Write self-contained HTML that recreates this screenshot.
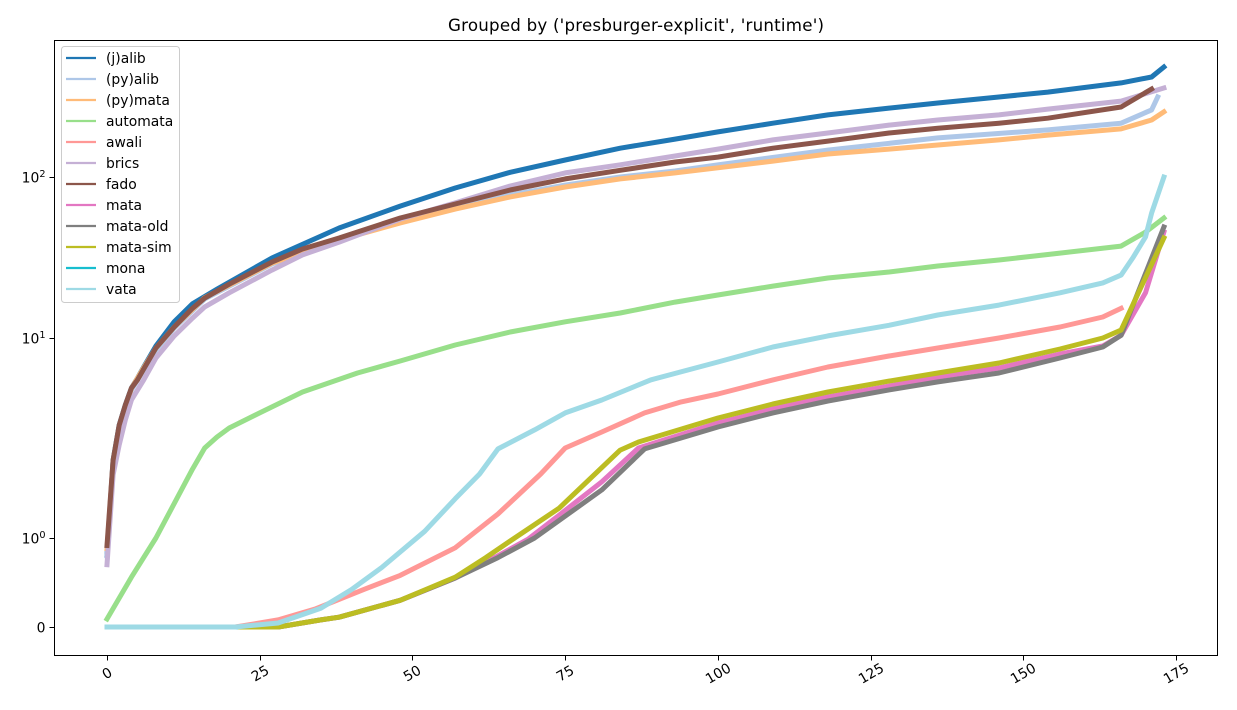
<!DOCTYPE html>
<html lang="en">
<head>
<meta charset="utf-8">
<title>Grouped by ('presburger-explicit', 'runtime')</title>
<style>
html,body{margin:0;padding:0;background:#fff;}
svg{display:block;font-family:"DejaVu Sans","Liberation Sans",sans-serif;}
</style>
</head>
<body>
<svg id="chart" width="1237" height="710" viewBox="0 0 1237 710" xmlns="http://www.w3.org/2000/svg">
  <rect x="0" y="0" width="1237" height="710" fill="#fff"/>
  <text x="448" y="31" font-size="16.67px" textLength="376" lengthAdjust="spacing" fill="#000">Grouped by ('presburger-explicit', 'runtime')</text>
  <g id="marks"></g>
  <rect x="54.5" y="40.5" width="1163" height="615" fill="none" stroke="#000" stroke-width="1"/>
  <g id="x-axis"></g>
  <g id="y-axis"></g>
  <g id="legend"></g>
</svg>
<script>
const xTicks = [0, 25, 50, 75, 100, 125, 150, 175];
const yTicks = [0, 1, 10, 100];
const yTickBases = ['0', '10', '10', '10'];
const yTickExponents = ['', '0', '1', '2'];

const seriesNames = ['(j)alib', '(py)alib', '(py)mata', 'automata', 'awali', 'brics', 'fado', 'mata', 'mata-old', 'mata-sim', 'mona', 'vata'];
const seriesColors = ['#1f77b4', '#aec7e8', '#ffbb78', '#98df8a', '#ff9896', '#c5b0d5', '#8c564b', '#e377c2', '#7f7f7f', '#bcbd22', '#17becf', '#9edae5'];

const jalibRanks = [0, 1, 2, 3, 4, 5, 6, 8, 11, 14, 18, 27, 38, 48, 57, 66, 75, 84, 93, 100, 109, 118, 128, 136, 146, 154, 166, 171, 173];
const jalibTimes = [0.81, 2.45, 3.67, 4.62, 5.62, 6.31, 7.16, 9.12, 12.6, 16.3, 20.1, 31.4, 48.2, 66, 85.5, 107, 127.5, 151, 172, 190.5, 216, 243, 268, 288, 314, 337, 384, 418, 482];

const pyalibRanks = [0, 1, 2, 4, 6, 8, 11, 16, 27, 38, 48, 57, 66, 75, 84, 93, 100, 118, 136, 154, 166, 171, 172];
const pyalibTimes = [0.8, 2.3, 3.5, 5.5, 6.9, 8.7, 11.5, 17.5, 28.8, 40.6, 53.3, 65.2, 77.3, 89.1, 100, 109, 119, 147, 175, 196, 216, 261, 314];

const pymataRanks = [0, 1, 2, 4, 6, 8, 11, 16, 27, 38, 48, 57, 66, 75, 84, 93, 100, 109, 118, 128, 136, 146, 154, 166, 171, 173];
const pymataTimes = [0.88, 2.4, 3.6, 5.6, 7.1, 8.9, 11.7, 17.8, 29.2, 40.6, 51.8, 63.2, 75.2, 86.7, 97.3, 106, 114, 125.6, 139, 149, 158, 170, 182, 199, 226, 254];

const automataRanks = [0, 4, 8, 14, 16, 18, 20, 25, 32, 41, 48, 57, 66, 75, 84, 93, 100, 109, 118, 128, 136, 146, 156, 166, 170, 173];
const automataTimes = [0.09, 0.56, 1.0, 2.21, 2.82, 3.2, 3.55, 4.22, 5.37, 6.68, 7.67, 9.23, 10.9, 12.6, 14.3, 16.7, 18.5, 21.0, 23.6, 25.7, 28, 30.5, 33.7, 37.2, 45.5, 55.6];

const awaliRanks = [0, 21, 28, 34, 42, 48, 57, 64, 71, 75, 81, 88, 94, 100, 109, 118, 128, 136, 146, 156, 163, 166];
const awaliTimes = [0, 0, 0.08, 0.2, 0.42, 0.58, 0.89, 1.32, 2.09, 2.82, 3.39, 4.22, 4.79, 5.25, 6.17, 7.16, 8.13, 8.91, 10, 11.7, 13.5, 15.3];

const bricsRanks = [0, 1, 2, 3, 4, 6, 8, 11, 14, 16, 20, 27, 32, 38, 48, 57, 66, 75, 84, 93, 100, 109, 118, 128, 136, 146, 154, 166, 173];
const bricsTimes = [0.70, 2.07, 2.92, 3.89, 4.9, 6.17, 7.94, 10.3, 13.3, 15.6, 19.1, 26.4, 32.8, 39.4, 54.8, 69, 87.9, 106, 119, 135, 149, 170, 187.5, 210, 226, 243, 264, 296, 357];

const fadoRanks = [0, 1, 2, 3, 4, 5, 6, 8, 11, 14, 16, 20, 27, 32, 38, 48, 57, 66, 75, 84, 93, 100, 109, 118, 128, 136, 146, 154, 166, 171];
const fadoTimes = [0.916, 2.45, 3.67, 4.62, 5.62, 6.17, 7.0, 8.91, 11.7, 15.3, 17.7, 21.6, 29.6, 35.7, 41.8, 55.6, 68, 83, 97.3, 110, 124, 133, 151, 167, 187.5, 201, 216, 232, 272, 352];

const mataRanks = [0, 28, 35, 38, 48, 57, 64, 69, 74, 81, 87, 100, 109, 118, 128, 136, 146, 156, 163, 166, 170, 173];
const mataTimes = [0, 0, 0.08, 0.11, 0.30, 0.55, 0.80, 0.99, 1.30, 1.91, 2.82, 3.76, 4.42, 5.07, 5.75, 6.38, 7.08, 8.32, 9.12, 10.4, 19.1, 45.5];

const mataOldRanks = [0, 28, 35, 38, 48, 57, 64, 70, 81, 88, 100, 109, 118, 128, 136, 146, 156, 163, 166, 173];
const mataOldTimes = [0, 0, 0.08, 0.11, 0.30, 0.55, 0.78, 1.0, 1.74, 2.79, 3.59, 4.22, 4.84, 5.5, 6.03, 6.68, 7.94, 9.02, 10.4, 48.9];

const mataSimRanks = [0, 28, 35, 38, 48, 57, 62, 66, 74, 84, 87, 100, 109, 118, 128, 136, 146, 156, 163, 166, 173];
const mataSimTimes = [0, 0, 0.08, 0.11, 0.30, 0.56, 0.78, 0.966, 1.41, 2.75, 3.02, 3.98, 4.68, 5.37, 6.09, 6.68, 7.5, 8.81, 10.0, 11.2, 41.8];

const monaRanks = [0, 21];
const monaTimes = [0, 0];

const vataRanks = [0, 21, 28, 35, 40, 45, 52, 57, 61, 64, 70, 75, 81, 89, 100, 109, 118, 128, 136, 146, 156, 163, 166, 168, 170, 171, 173];
const vataTimes = [0, 0, 0.045, 0.21, 0.42, 0.67, 1.08, 1.57, 2.09, 2.79, 3.47, 4.22, 4.9, 6.17, 7.59, 9.02, 10.3, 12, 13.9, 16, 19.1, 22.0, 24.6, 31.8, 42.4, 59.7, 100];

const seriesRanks = [jalibRanks, pyalibRanks, pymataRanks, automataRanks, awaliRanks, bricsRanks, fadoRanks, mataRanks, mataOldRanks, mataSimRanks, monaRanks, vataRanks];
const seriesTimes = [jalibTimes, pyalibTimes, pymataTimes, automataTimes, awaliTimes, bricsTimes, fadoTimes, mataTimes, mataOldTimes, mataSimTimes, monaTimes, vataTimes];

const SVG_NS = 'http://www.w3.org/2000/svg';

function xScale(rank) {
  return 107 + rank * 6.109;
}
function yScale(value) {
  if (value <= 1) return 627 - 89 * value;
  if (value <= 10) return 538 - 200 * Math.log10(value);
  return 338 - 161 * (Math.log10(value) - 1);
}
function slug(name) {
  return name.replace(/[()]/g, '').replace(/[^a-z0-9]+/gi, '-').toLowerCase();
}

const marks = document.getElementById('marks');
seriesNames.forEach(function (name, i) {
  const line = document.createElementNS(SVG_NS, 'polyline');
  
  
  const pts = seriesRanks[i].map(function (r, j) {
    return xScale(r).toFixed(1) + ',' + yScale(seriesTimes[i][j]).toFixed(1);
  });
  line.setAttribute('points', pts.join(' '));
  line.setAttribute('fill', 'none');
  line.setAttribute('stroke', seriesColors[i]);
  line.setAttribute('stroke-width', '5');
  line.setAttribute('stroke-linecap', 'square');
  line.setAttribute('stroke-linejoin', 'round');
  marks.appendChild(line);
});

const xAxis = document.getElementById('x-axis');
xTicks.forEach(function (t) {
  const x = Math.round(xScale(t)) + 0.5;
  const tick = document.createElementNS(SVG_NS, 'line');
  
  
  tick.setAttribute('x1', x);
  tick.setAttribute('x2', x);
  tick.setAttribute('y1', 655.5);
  tick.setAttribute('y2', 660.5);
  tick.setAttribute('stroke', '#000');
  tick.setAttribute('stroke-width', '1');
  xAxis.appendChild(tick);
  const label = document.createElementNS(SVG_NS, 'text');
  
  
  label.setAttribute('transform', 'translate(' + x + ',674) rotate(-30)');
  label.setAttribute('text-anchor', 'middle');
  label.setAttribute('dominant-baseline', 'central');
  label.setAttribute('font-size', '13.9px');
  label.setAttribute('fill', '#000');
  label.textContent = String(t);
  xAxis.appendChild(label);
});

const yAxis = document.getElementById('y-axis');
yTicks.forEach(function (t, i) {
  const y = Math.round(yScale(t)) + 0.5;
  const tick = document.createElementNS(SVG_NS, 'line');
  
  
  tick.setAttribute('x1', 49.5);
  tick.setAttribute('x2', 54.5);
  tick.setAttribute('y1', y);
  tick.setAttribute('y2', y);
  tick.setAttribute('stroke', '#000');
  tick.setAttribute('stroke-width', '1');
  yAxis.appendChild(tick);
  const label = document.createElementNS(SVG_NS, 'text');
  
  
  label.setAttribute('fill', '#000');
  label.setAttribute('font-size', '13.9px');
  label.setAttribute('text-anchor', 'end');
  label.setAttribute('x', 45.5);
  label.setAttribute('y', y + 5);
  label.textContent = yTickBases[i];
  if (yTickExponents[i]) {
    const sup = document.createElementNS(SVG_NS, 'tspan');
    sup.setAttribute('font-size', '9.7px');
    sup.setAttribute('dy', '-5.5');
    sup.textContent = yTickExponents[i];
    label.appendChild(sup);
  }
  yAxis.appendChild(label);
});

const legend = document.getElementById('legend');
const legendBox = document.createElementNS(SVG_NS, 'rect');


legendBox.setAttribute('x', 61.5);
legendBox.setAttribute('y', 46.5);
legendBox.setAttribute('width', 118);
legendBox.setAttribute('height', 256);
legendBox.setAttribute('rx', 3);
legendBox.setAttribute('fill', '#fff');
legendBox.setAttribute('fill-opacity', '0.8');
legendBox.setAttribute('stroke', '#ccc');
legendBox.setAttribute('stroke-width', '1');
legend.appendChild(legendBox);
seriesNames.forEach(function (name, i) {
  const rowY = 58 + i * 21;
  const swatch = document.createElementNS(SVG_NS, 'line');
  
  
  swatch.setAttribute('x1', 66);
  swatch.setAttribute('x2', 96);
  swatch.setAttribute('y1', rowY);
  swatch.setAttribute('y2', rowY);
  swatch.setAttribute('stroke', seriesColors[i]);
  swatch.setAttribute('stroke-width', '2.2');
  legend.appendChild(swatch);
  const text = document.createElementNS(SVG_NS, 'text');
  
  
  text.setAttribute('x', 106);
  text.setAttribute('y', rowY + 5);
  text.setAttribute('font-size', '13.9px');
  text.setAttribute('fill', '#000');
  text.textContent = name;
  legend.appendChild(text);
});
</script>
</body>
</html>
